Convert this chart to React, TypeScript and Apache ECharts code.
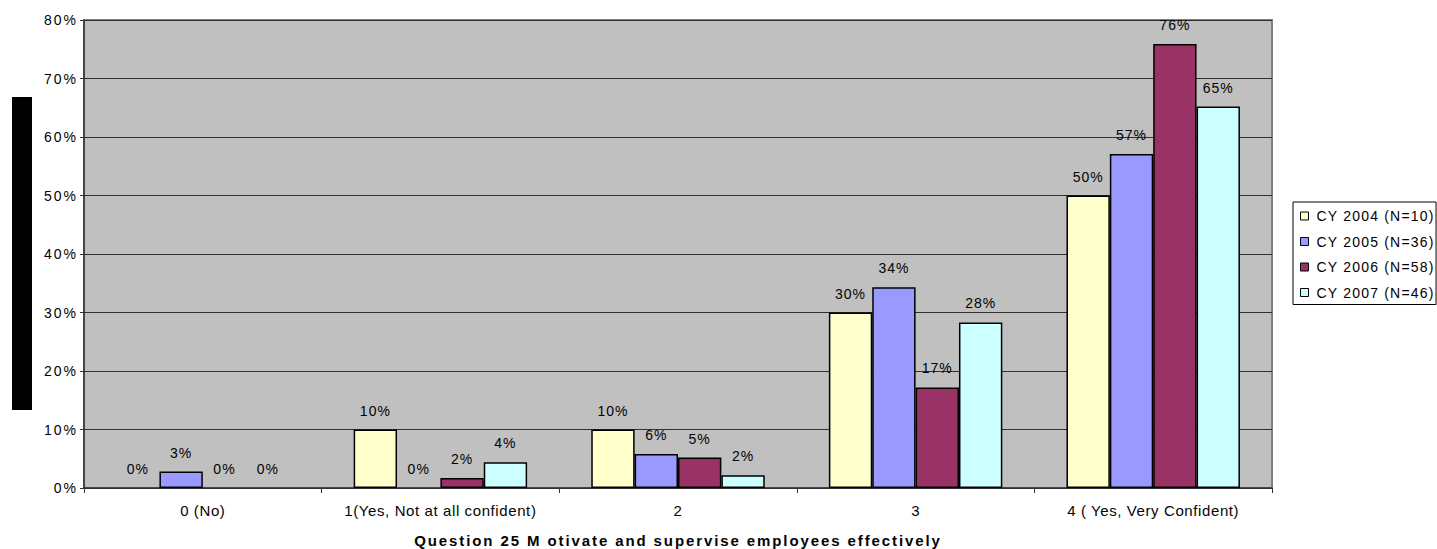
import React, { useEffect, useRef } from "react";
import * as echarts from "echarts";

const categories = ["0 (No)", "1(Yes, Not at all confident)", "2", "3", "4 ( Yes, Very Confident)"];
const seriesNames = ["CY 2004 (N=10)", "CY 2005 (N=36)", "CY 2006 (N=58)", "CY 2007 (N=46)"];
const cy2004 = [0, 10, 10, 30, 50];
const cy2005 = [2.8, 0, 5.8, 34.3, 57.1];
const cy2006 = [0, 1.7, 5.2, 17.2, 75.9];
const cy2007 = [0, 4.4, 2.2, 28.3, 65.2];
const yTicks = [0, 10, 20, 30, 40, 50, 60, 70, 80];
const colors = ["#FFFFCC", "#9999FF", "#993366", "#CCFFFF"];
const xTitle = "Question 25 M otivate and supervise employees effectively";

// near-black tints used only to attach letter-spacing via CSS
const C_LEGEND = "#010101";
const C_YLAB = "#020202";
const C_VAL = "#030303";
const C_TITLE = "#040404";
const C_XLAB = "#050505";

const css = `
text[fill="${C_LEGEND}"]{letter-spacing:1.2px}
text[fill="${C_YLAB}"]{letter-spacing:2px}
text[fill="${C_VAL}"]{letter-spacing:1px}
text[fill="${C_TITLE}"]{letter-spacing:1.9px}
text[fill="${C_XLAB}"]{letter-spacing:0.6px}
`;

export default function App() {
  const ref = useRef<HTMLDivElement>(null);
  useEffect(() => {
    if (!ref.current) return;
    const chart = echarts.init(ref.current, null, { renderer: "svg" });
    const data = [cy2004, cy2005, cy2006, cy2007];
    const font = "'Liberation Sans', Arial, sans-serif";
    chart.setOption({
      animation: false,
      textStyle: { fontFamily: font },
      grid: {
        left: 84,
        top: 20,
        width: 1188,
        height: 468,
        containLabel: false,
        outerBoundsMode: "none",
        show: true,
        backgroundColor: "#C0C0C0",
        borderColor: "#808080",
        borderWidth: 2,
      },
      legend: {
        orient: "vertical",
        left: 1293,
        top: 202,
        itemWidth: 8,
        itemHeight: 8,
        itemGap: 11.5,
        padding: [7, 18, 5, 7],
        borderColor: "#000",
        borderWidth: 1,
        backgroundColor: "#fff",
        borderRadius: 0,
        icon: "rect",
        itemStyle: { borderColor: "#000", borderWidth: 1 },
        textStyle: { fontSize: 14, color: C_LEGEND, fontFamily: font, padding: [0, 0, 0, 3] },
        data: seriesNames,
      },
      graphic: [
        {
          type: "rect",
          shape: { x: 12, y: 97, width: 20, height: 313 },
          style: { fill: "#000" },
        },
      ],
      xAxis: {
        type: "category",
        data: categories,
        axisLine: { lineStyle: { color: "#333", width: 1.5 } },
        axisTick: { show: true, length: 5, lineStyle: { color: "#333" } },
        axisLabel: { color: C_XLAB, fontSize: 15, margin: 15, interval: 0, fontFamily: font },
        name: xTitle,
        nameLocation: "middle",
        nameGap: 45,
        nameTextStyle: { fontSize: 15, fontWeight: "bold", color: C_TITLE, fontFamily: font },
      },
      yAxis: {
        type: "value",
        min: 0,
        max: 80,
        interval: 10,
        axisLine: { show: true, lineStyle: { color: "#333", width: 1.5 } },
        axisTick: { show: true, length: 4, lineStyle: { color: "#333" } },
        axisLabel: {
          color: C_YLAB,
          fontSize: 14,
          margin: 6,
          fontFamily: font,
          formatter: (v: number) => (yTicks.includes(v) ? v + "%" : ""),
        },
        splitLine: { show: true, lineStyle: { color: "#303030", width: 1 } },
      },
      series: seriesNames.map((name, i) => ({
        name,
        type: "bar",
        data: data[i].map((v) => (v === 0 ? { value: v, itemStyle: { borderWidth: 0 } } : v)),
        barGap: "0%",
        barCategoryGap: "27%",
        itemStyle: { color: colors[i], borderColor: "#000", borderWidth: 1.5 },
        label: {
          show: true,
          position: "top",
          distance: 12,
          color: C_VAL,
          fontSize: 14,
          fontFamily: font,
          formatter: (p: any) => Math.round(p.value) + "%",
        },
      })),
    });
    return () => chart.dispose();
  }, []);
  return (
    <>
      <style>{css}</style>
      <div
        ref={ref}
        style={{ position: "fixed", left: 0, top: 0, width: 1437, height: 549, background: "#fff" }}
      />
    </>
  );
}
